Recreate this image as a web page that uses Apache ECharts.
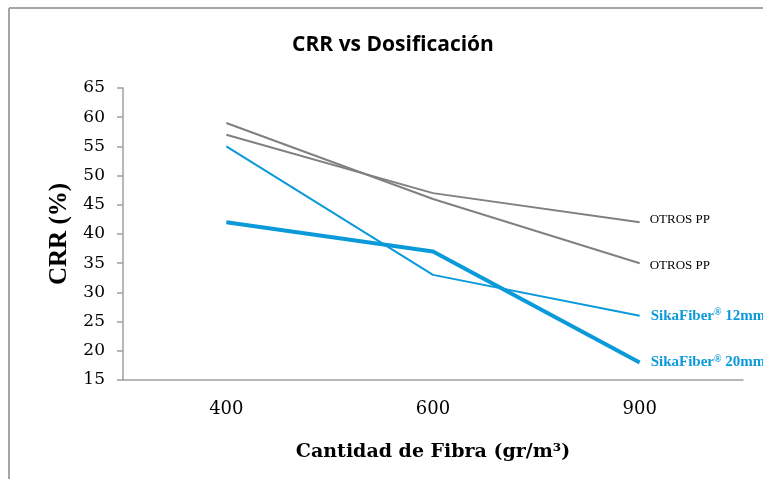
<!DOCTYPE html>
<html>
<head>
<meta charset="utf-8">
<script src="https://cdn.jsdelivr.net/npm/echarts@6/dist/echarts.min.js"></script>
<style>
  html, body { margin: 0; padding: 0; background: #fff; }
  #chart { width: 763px; height: 479px; }
</style>
</head>
<body>
<div id="chart"></div>
<script>
// datos
var dosis = ['400', '600', '900'];
var otrosA = [59, 46, 35];
var otrosB = [57, 47, 42];
var sika12 = [55, 33, 26];
var sika20 = [42, 37, 18];

var gris = '#808080';
var azul = '#0a9ad9';
var serif = '"Liberation Serif", "DejaVu Serif", serif';
var serifAncha = '"DejaVu Serif", serif';

var myChart = echarts.init(document.getElementById('chart'));

function etiquetaOtros(dy) {
    return {
        show: true,
        distance: 10,
        offset: [0, dy],
        formatter: 'OTROS PP',
        color: '#000',
        fontFamily: serif,
        fontSize: 13
    };
}

function etiquetaSika(mm) {
    var base = { fontFamily: serif, fontSize: 15, fontWeight: 'bold', color: azul };
    return {
        show: true,
        distance: 11,
        formatter: '{a|SikaFiber}{r|®}{a| ' + mm + '}',
        rich: {
            a: base,
            r: { fontFamily: serif, fontSize: 10, fontWeight: 'bold', color: azul, padding: [0, 0, 6, 0] }
        }
    };
}

function serie(nombre, datos, color, ancho, label) {
    return {
        name: nombre,
        type: 'line',
        data: datos,
        symbol: 'none',
        lineStyle: { color: color, width: ancho },
        itemStyle: { color: color },
        endLabel: label,
        animation: false
    };
}

option = {
    title: {
        text: 'CRR vs Dosificación',
        left: 388,
        textAlign: 'center',
        top: 30,
        textStyle: {
            fontFamily: '"Open Sans", sans-serif',
            fontSize: 21,
            fontWeight: 'bold',
            color: '#000'
        }
    },
    graphic: [
        { type: 'line', shape: { x1: 9, y1: 8, x2: 763, y2: 8 }, style: { stroke: '#a6a6a6', lineWidth: 2 } },
        { type: 'line', shape: { x1: 9, y1: 8, x2: 9, y2: 479 }, style: { stroke: '#a6a6a6', lineWidth: 2 } }
    ],
    grid: { left: 123, right: 20, top: 88, bottom: 99 },
    xAxis: {
        type: 'category',
        data: dosis,
        boundaryGap: true,
        name: 'Cantidad de Fibra (gr/m³)',
        nameLocation: 'middle',
        nameGap: 63,
        nameTextStyle: { fontFamily: serifAncha, fontSize: 19, fontWeight: 'bold', color: '#000' },
        axisLine: { lineStyle: { color: '#a0a0a0', width: 1.5 } },
        axisTick: { show: false },
        axisLabel: { fontFamily: serifAncha, fontSize: 18, color: '#000', margin: 20 }
    },
    yAxis: {
        type: 'value',
        min: 15,
        max: 65,
        interval: 5,
        name: 'CRR (%)',
        nameLocation: 'middle',
        nameGap: 51,
        nameTextStyle: { fontFamily: serif, fontSize: 25, fontWeight: 'bold', color: '#000' },
        axisLine: { show: true, lineStyle: { color: '#a0a0a0', width: 1.5 } },
        axisTick: { show: true, length: 6, lineStyle: { color: '#a0a0a0', width: 1.5 } },
        splitLine: { show: false },
        axisLabel: { fontFamily: serifAncha, fontSize: 17, color: '#000', margin: 18 }
    },
    series: [
        serie('OTROS PP', otrosA, gris, 2, etiquetaOtros(2)),
        serie('OTROS PP ', otrosB, gris, 2, etiquetaOtros(-3)),
        serie('SikaFiber® 12mm', sika12, azul, 2, etiquetaSika('12mm')),
        serie('SikaFiber® 20mm', sika20, azul, 4, etiquetaSika('20mm'))
    ]
};

myChart.setOption(option);
</script>
</body>
</html>
